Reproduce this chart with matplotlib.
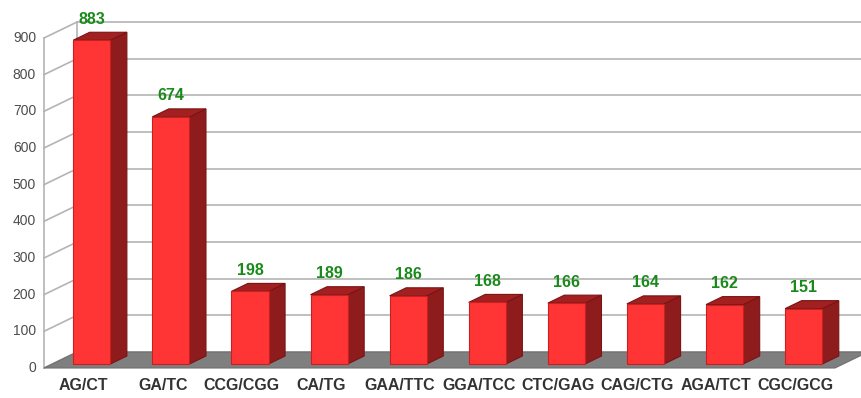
import matplotlib
matplotlib.use("Agg")
import matplotlib.pyplot as plt
from matplotlib.patches import Polygon

motifs = ["AG/CT", "GA/TC", "CCG/CGG", "CA/TG", "GAA/TTC",
          "GGA/TCC", "CTC/GAG", "CAG/CTG", "AGA/TCT", "CGC/GCG"]
counts = [883, 674, 198, 189, 186, 168, 166, 164, 162, 151]
yticks = [0, 100, 200, 300, 400, 500, 600, 700, 800, 900]

plt.rcParams['font.family'] = ['Liberation Sans', 'DejaVu Sans']

fig = plt.figure(figsize=(8.61, 3.98), dpi=100)
ax = fig.add_axes([44 / 861, 30 / 398, 791 / 861, 330 / 398])
ax.set_xlim(-0.5, len(motifs) - 0.5)
ax.set_ylim(0, 900)
ax.axis("off")

# depth vector of the pseudo-3d box (category units, value units)
dx, dy = 0.417, 43.6
xmin, xmax = -0.5, len(motifs) - 0.5
grid_c = "#b4b4b4"

# back wall gridlines and left wall diagonals
for t in yticks:
    ax.plot([xmin + dx, xmax + 2 * dx], [t + dy, t + dy], color=grid_c, lw=1.2,
            clip_on=False, zorder=1)
    ax.plot([xmin, xmin + dx], [t, t + dy], color=grid_c, lw=1.2, clip_on=False, zorder=1)
    ax.text(xmin - 0.1, t, str(t), ha="right", va="center", fontsize=10,
            color="#4d4d4d")
ax.plot([xmin, xmin], [0, 900], color=grid_c, lw=1.2, clip_on=False, zorder=1)
ax.plot([xmin + dx, xmin + dx], [dy, 900 + dy], color=grid_c, lw=1.2, clip_on=False, zorder=1)

# floor
floor = Polygon([(xmin, 0), (xmax, 0), (xmax + dx, dy), (xmin + dx, dy)],
                closed=True, facecolor="#7f7f7f", edgecolor="#6f6f6f", lw=0.8,
                clip_on=False, zorder=2)
ax.add_patch(floor)

w = 0.235
for i, (name, v) in enumerate(zip(motifs, counts)):
    x0 = i + 0.25 * dx
    y0 = 0.25 * dy
    ddx, ddy = 0.5 * dx, 0.5 * dy
    front = [(x0 - w, y0), (x0 + w, y0), (x0 + w, y0 + v), (x0 - w, y0 + v)]
    side = [(x0 + w, y0), (x0 + w + ddx, y0 + ddy), (x0 + w + ddx, y0 + v + ddy),
            (x0 + w, y0 + v)]
    top = [(x0 - w, y0 + v), (x0 + w, y0 + v), (x0 + w + ddx, y0 + v + ddy),
           (x0 - w + ddx, y0 + v + ddy)]
    ax.add_patch(Polygon(side, closed=True, facecolor="#8e1c1c", edgecolor="#7a1414",
                         lw=0.8, clip_on=False, zorder=3))
    ax.add_patch(Polygon(top, closed=True, facecolor="#a22020", edgecolor="#7a1414",
                         lw=0.8, clip_on=False, zorder=3))
    ax.add_patch(Polygon(front, closed=True, facecolor="#ff3535", edgecolor="#c82020",
                         lw=0.8, clip_on=False, zorder=4))
    ax.text(x0, y0 + v + 57, str(v), ha="center", va="center", fontsize=11.5,
            fontweight="bold", color="#1a8a1a", zorder=5)
    ax.text(i, -48, name, ha="center", va="center", fontsize=11.5,
            fontweight="bold", color="#333333")

fig.savefig("out.png", dpi=100)
